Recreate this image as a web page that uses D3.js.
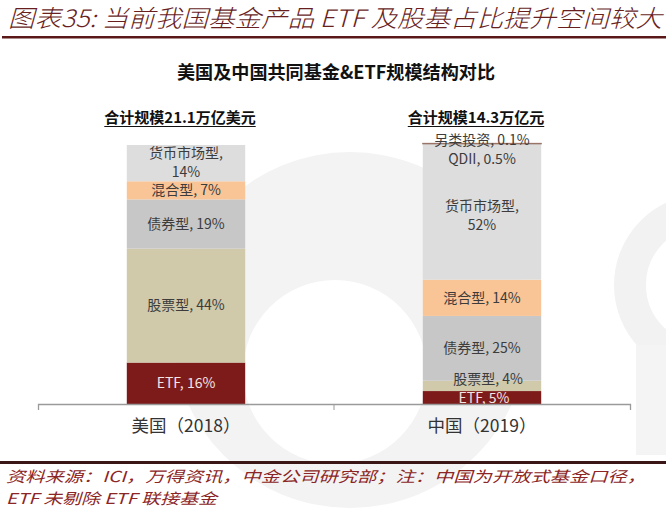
<!DOCTYPE html>
<html>
<head>
  <meta charset="utf-8" />
  <script src="https://d3js.org/d3.v7.min.js"></script>
  <style>
    body{ margin:0; background:#fff; }
    svg text{ font-family:"Noto Sans CJK SC","Noto Sans",sans-serif; }
  </style>
</head>
<body>
<script>
//chart values
var categories = ["美国（2018）", "中国（2019）"];
var totals = ["合计规模21.1万亿美元", "合计规模14.3万亿元"];
var seriesNames = ["ETF", "股票型", "债券型", "混合型", "货币市场型", "QDII", "另类投资"];
var usValues = [16, 44, 19, 7, 14, 0, 0];
var cnValues = [5, 4, 25, 14, 52, 0.5, 0.1];

var W = 666, H = 518;
var colors = {"ETF":"#7d1b1b","股票型":"#d0c9aa","债券型":"#c7c7c7","混合型":"#f9c597",
              "货币市场型":"#dddddd","QDII":"#d9d9d9","另类投资":"#9a7466"};
//small nudges for some labels (category index + series)
var nudge = {"1QDII":[0,15],"1另类投资":[0,-3],"1货币市场型":[0,3],"1股票型":[6,-7],"1ETF":[2,1],
             "0货币市场型":[0,-1]};

var svg = d3.select('body').append('svg').attr('width',W).attr('height',H);

//faint watermark behind everything
var wm = svg.append('g');
wm.append('circle').attr('cx',350).attr('cy',330).attr('r',178).attr('fill','#f3f3f3');
wm.append('circle').attr('cx',335).attr('cy',372).attr('r',92).attr('fill','#fff');
wm.append('circle').attr('cx',705).attr('cy',285).attr('r',75)
  .attr('fill','none').attr('stroke','#f2f2f2').attr('stroke-width',32);
wm.append('rect').attr('x',636).attr('y',345).attr('width',30).attr('height',110).attr('fill','#f4f4f4');

//heading
svg.append('text').attr('x',8).attr('y',27)
  .attr('font-size',24).attr('font-style','italic').attr('font-weight',300).attr('fill','#6a1f1f')
  .attr('textLength',654).attr('lengthAdjust','spacingAndGlyphs')
  .text('图表35:  当前我国基金产品 ETF 及股基占比提升空间较大');
svg.append('rect').attr('x',2).attr('y',36).attr('width',664).attr('height',2.5).attr('fill','#5a1818');

svg.append('text').attr('x',177).attr('y',79)
  .attr('font-size',18).attr('font-weight','bold').attr('fill','#111')
  .attr('textLength',318).attr('lengthAdjust','spacingAndGlyphs')
  .text('美国及中国共同基金&ETF规模结构对比');

//scales
var x = d3.scaleBand().domain(categories).range([38,630]).paddingInner(0.6).paddingOuter(0.3);
var y = d3.scaleLinear().domain([0,100]).range([404,145]);

var rows = categories.map(function(c,i){
  var r = {cat:c}, v = i==0 ? usValues : cnValues;
  seriesNames.forEach(function(s,j){ r[s] = v[j]; });
  return r;
});
var stacked = d3.stack().keys(seriesNames)(rows);

var g = svg.append('g');
stacked.forEach(function(layer){
  g.selectAll(null).data(layer).enter().append('rect')
    .attr('x',function(d){ return x(d.data.cat); })
    .attr('width',x.bandwidth())
    .attr('y',function(d){ return y(d[1]); })
    .attr('height',function(d){ return y(d[0])-y(d[1]); })
    .attr('fill',colors[layer.key])
    .attr('stroke',layer.key=='另类投资' ? colors[layer.key] : 'none')
    .attr('stroke-width',1.2);
});

//segment labels
stacked.forEach(function(layer){
  layer.forEach(function(d,i){
    var v = d.data[layer.key];
    if(v<=0) return;
    var n = nudge[i+layer.key] || [0,0];
    var cx = x(d.data.cat)+x.bandwidth()/2+n[0];
    var cy = (y(d[0])+y(d[1]))/2+n[1];
    var t = g.append('text').attr('text-anchor','middle').attr('font-size',14)
      .attr('fill',layer.key=='ETF' ? '#f4e4e4' : '#3c3c3c');
    if(layer.key=='货币市场型'){
      t.append('tspan').attr('x',cx).attr('y',cy-9.5).attr('dy','0.35em').text(layer.key+',');
      t.append('tspan').attr('x',cx).attr('y',cy+9.5).attr('dy','0.35em').text(v+'%');
    } else {
      t.attr('x',cx).attr('y',cy).attr('dy','0.35em').text(layer.key+', '+v+'%');
    }
  });
});

//total size labels, underlined
categories.forEach(function(c,i){
  var cx = x(c)+x.bandwidth()/2-6;
  var t = svg.append('text').attr('x',cx).attr('y',123).attr('text-anchor','middle')
    .attr('font-size',15).attr('font-weight','bold').attr('fill','#111').text(totals[i]);
  var w = t.node().getComputedTextLength();
  svg.append('line').attr('x1',cx-w/2).attr('x2',cx+w/2).attr('y1',126.5).attr('y2',126.5)
    .attr('stroke','#111').attr('stroke-width',1);
});

//axis
var ax = svg.append('g').attr('transform','translate(0,404)')
  .call(d3.axisBottom(x).tickSizeInner(0).tickSizeOuter(6).tickPadding(16));
ax.select('.domain').attr('stroke','#9a9a9a').attr('stroke-width',1.3);
ax.selectAll('text').attr('font-size',17.5).attr('fill','#333')
  .attr('font-family','"Noto Sans CJK SC",sans-serif');
ax.append('line').attr('x1',x.range()[0]+x.step()).attr('x2',x.range()[0]+x.step())
  .attr('y1',0).attr('y2',6).attr('stroke','#9a9a9a');

//footer
svg.append('rect').attr('x',0).attr('y',461).attr('width',666).attr('height',3).attr('fill','#3a1616');
svg.append('text').attr('x',6).attr('y',482).attr('font-size',15).attr('font-style','italic')
  .attr('fill','#8c2525').attr('textLength',640).attr('lengthAdjust','spacingAndGlyphs')
  .text('资料来源：ICI，万得资讯，中金公司研究部；注：中国为开放式基金口径，');
svg.append('text').attr('x',6).attr('y',504).attr('font-size',15).attr('font-style','italic')
  .attr('fill','#8c2525').attr('textLength',211).attr('lengthAdjust','spacingAndGlyphs')
  .text('ETF 未剔除 ETF 联接基金');
</script>
</body>
</html>
